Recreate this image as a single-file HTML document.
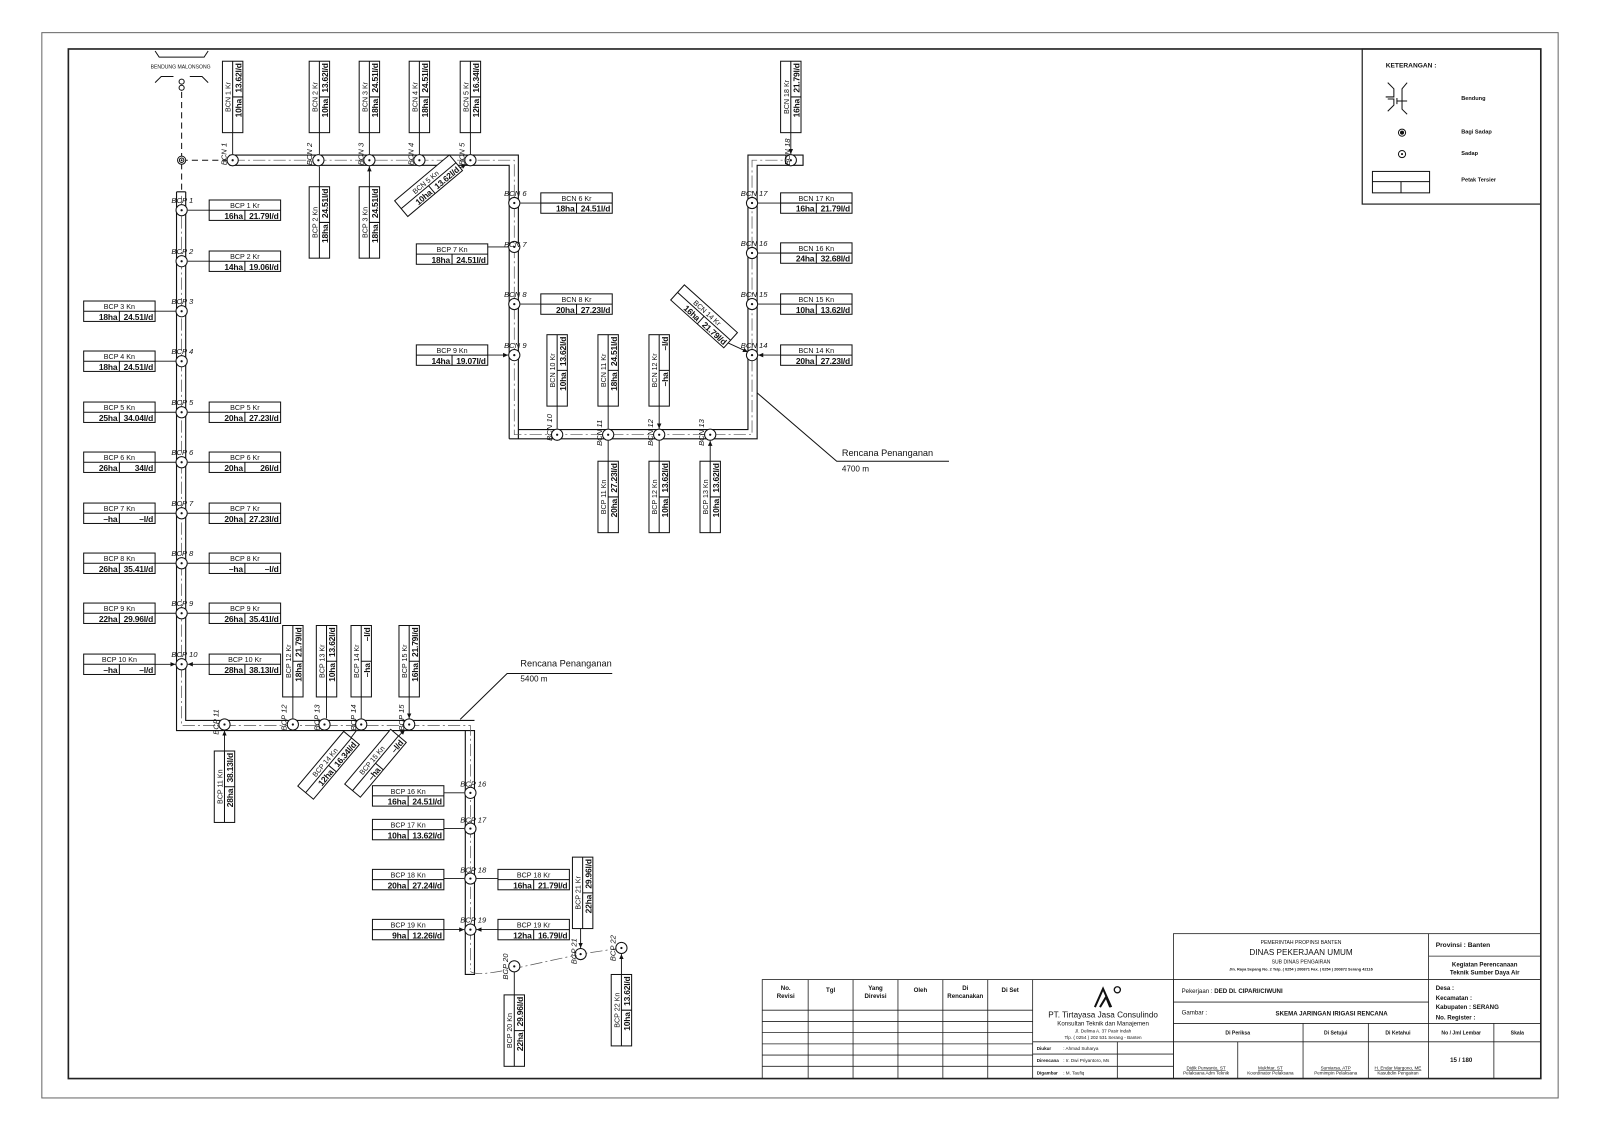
<!DOCTYPE html>
<html><head><meta charset="utf-8"><style>
html,body{margin:0;padding:0;background:#fff;width:1600px;height:1131px;overflow:hidden}
svg{display:block}
text{font-family:"Liberation Sans",sans-serif;fill:#111}
.b rect{fill:#fff;stroke:#111;stroke-width:1}
.b path{stroke:#111;stroke-width:1;fill:none}
.l{font-size:7px;text-anchor:middle}
.v{font-size:8.3px;font-weight:bold;text-anchor:end;letter-spacing:-0.2px}
.n{font-size:7.5px;font-style:italic}
.t{font-size:6px}
.tb{font-size:6px;font-weight:bold}
.c{text-anchor:middle}
</style></head><body>
<svg width="1600" height="1131" viewBox="0 0 1600 1131" xmlns="http://www.w3.org/2000/svg">
<defs>
<marker id="a" markerWidth="6" markerHeight="6" refX="5" refY="3" orient="auto" markerUnits="userSpaceOnUse"><path d="M0,0.8 L5,3 L0,5.2z" fill="#111"/></marker>
</defs>
<g transform="scale(1.0204)">
<rect x="41" y="32" width="1486" height="1044" fill="none" stroke="#666" stroke-width="1"/>
<rect x="67" y="48" width="1443" height="1009" fill="none" stroke="#222" stroke-width="1.6"/>

<rect x="1335" y="48" width="175" height="152" fill="none" stroke="#222" stroke-width="1.2"/>
<text x="1358" y="66" class="tb" style="font-size:6.5px">KETERANGAN :</text>
<path d="M1360,81 l6,6 v8 h-8 M1360,109 l6,-6 v-6 h-6 M1369,99 h10 M1369,96 v6 M1379,81 l-5,6 v20 l5,5 M1374,99 h5" stroke="#111" fill="none" stroke-width="1"/>
<text x="1432" y="98" class="tb" style="font-size:5.5px">Bendung</text>
<circle cx="1374" cy="130" r="3.5" fill="none" stroke="#111"/><circle cx="1374" cy="130" r="2" fill="#111"/>
<text x="1432" y="131" class="tb" style="font-size:5.5px">Bagi Sadap</text>
<circle cx="1374" cy="151" r="3.5" fill="none" stroke="#111"/><circle cx="1374" cy="151" r="1" fill="#111"/>
<text x="1432" y="152" class="tb" style="font-size:5.5px">Sadap</text>
<rect x="1345" y="168" width="56" height="21" fill="none" stroke="#111"/><path d="M1345,178H1401M1373,178V189" stroke="#111"/>
<text x="1432" y="178" class="tb" style="font-size:5.5px">Petak Tersier</text>

<path d="M152,50 l4,6 h44 l4,-6" stroke="#111" fill="none"/>
<text x="177" y="67" class="t c" style="font-size:5px">BENDUNG MALONSONG</text>
<path d="M152,81 l6,-6 h12 M204,81 l-6,-6 h-12" stroke="#111" fill="none"/>
<circle cx="178" cy="80" r="2.5" fill="none" stroke="#111"/><circle cx="178" cy="86" r="2.5" fill="none" stroke="#111"/>
<path d="M178,90 V190 M178,157 H228" stroke="#111" stroke-dasharray="6,4" fill="none"/>
<circle cx="178" cy="157" r="4" fill="#fff" stroke="#111"/><circle cx="178" cy="157" r="2.2" fill="none" stroke="#111"/><circle cx="178" cy="157" r="0.9" fill="#111"/>

<g stroke="#111" stroke-width="1.1" fill="none">
<path d="M225,152 H508 V430 H499 M225,162 H499 V430 M225,152 V162 M508,421 H733 V152 H787 V162 H742 V430 H508"/>
<path d="M173,188 V716 H465 V955 H456 V716 M182,188 V706 H465 M173,188 H182"/>
</g>
<g stroke="#555" stroke-width="0.7" fill="none" stroke-dasharray="12,3,2,3">
<path d="M228,157 H504 V426 H737 V157 H775"/>
<path d="M178,192 V711 H461 V950"/>
<path d="M461,952 Q466,957 500,950 L569,935 L609,929"/>
</g>

<path d="M451,705 L497,660 H600" stroke="#111" fill="none"/>
<text x="510" y="653" style="font-size:9px">Rencana Penanganan</text>
<text x="510" y="668" style="font-size:8px">5400 m</text>
<path d="M742,385 L820,452 H930" stroke="#111" fill="none"/>
<text x="825" y="447" style="font-size:9px">Rencana Penanganan</text>
<text x="825" y="462" style="font-size:8px">4700 m</text>

<g stroke="#111" stroke-width="0.9" marker-end="url(#a)" fill="none">
<path d="M228,130V151M313,130V151M362,130V151M411,130V151M461,130V151M775,130V151"/>
<path d="M313,183V163M362,183V163"/>
<path d="M436,173L457,161"/>
<path d="M530,199H510M478,242H498M530,298H510M478,348H498"/>
<path d="M546,398V420M596,398V420M646,398V420"/>
<path d="M596,452V432M646,452V432M696,452V432"/>
<path d="M709,334L733,345"/>
<path d="M765,199H743M765,248H743M765,298H743M765,348H743"/>
<path d="M205,206H184M205,256H184M205,404H184M205,453H184M205,503H184M205,552H184M205,601H184M205,651H184"/>
<path d="M152,305H172M152,354H172M152,404H172M152,453H172M152,503H172M152,552H172M152,601H172M152,651H172"/>
<path d="M287,683V704M320,683V704M354,683V704M401,683V704"/>
<path d="M220,736V716"/>
<path d="M335,735L350,715M380,732L397,715"/>
<path d="M435,777H455M435,812H455M435,861H455M435,911H455"/>
<path d="M488,861H467M488,911H467"/>
<path d="M569,910V929"/>
<path d="M504,975V953M609,955V935"/>
</g>

<g fill="#fff" stroke="#111" stroke-width="1">
<circle cx="228" cy="157" r="5.5"/><circle cx="312" cy="157" r="5.5"/><circle cx="362" cy="157" r="5.5"/><circle cx="411" cy="157" r="5.5"/><circle cx="461" cy="157" r="5.5"/>
<circle cx="504" cy="199" r="5.5"/><circle cx="504" cy="242" r="5.5"/><circle cx="504" cy="298" r="5.5"/><circle cx="504" cy="348" r="5.5"/>
<circle cx="546" cy="426" r="5.5"/><circle cx="596" cy="426" r="5.5"/><circle cx="646" cy="426" r="5.5"/><circle cx="696" cy="426" r="5.5"/>
<circle cx="737" cy="348" r="5.5"/><circle cx="737" cy="298" r="5.5"/><circle cx="737" cy="248" r="5.5"/><circle cx="737" cy="199" r="5.5"/><circle cx="775" cy="157" r="5.5"/>
<circle cx="178" cy="206" r="5.5"/><circle cx="178" cy="256" r="5.5"/><circle cx="178" cy="305" r="5.5"/><circle cx="178" cy="354" r="5.5"/><circle cx="178" cy="404" r="5.5"/><circle cx="178" cy="453" r="5.5"/><circle cx="178" cy="503" r="5.5"/><circle cx="178" cy="552" r="5.5"/><circle cx="178" cy="601" r="5.5"/><circle cx="178" cy="651" r="5.5"/>
<circle cx="220" cy="710" r="5.5"/><circle cx="287" cy="710" r="5.5"/><circle cx="318" cy="710" r="5.5"/><circle cx="354" cy="710" r="5.5"/><circle cx="401" cy="710" r="5.5"/>
<circle cx="461" cy="777" r="5.5"/><circle cx="461" cy="812" r="5.5"/><circle cx="461" cy="861" r="5.5"/><circle cx="461" cy="911" r="5.5"/>
<circle cx="504" cy="947" r="5.5"/><circle cx="569" cy="935" r="5.5"/><circle cx="609" cy="929" r="5.5"/>
</g>
<g fill="#111">
<circle cx="228" cy="157" r="1.1"/><circle cx="312" cy="157" r="1.1"/><circle cx="362" cy="157" r="1.1"/><circle cx="411" cy="157" r="1.1"/><circle cx="461" cy="157" r="1.1"/>
<circle cx="504" cy="199" r="1.1"/><circle cx="504" cy="242" r="1.1"/><circle cx="504" cy="298" r="1.1"/><circle cx="504" cy="348" r="1.1"/>
<circle cx="546" cy="426" r="1.1"/><circle cx="596" cy="426" r="1.1"/><circle cx="646" cy="426" r="1.1"/><circle cx="696" cy="426" r="1.1"/>
<circle cx="737" cy="348" r="1.1"/><circle cx="737" cy="298" r="1.1"/><circle cx="737" cy="248" r="1.1"/><circle cx="737" cy="199" r="1.1"/><circle cx="775" cy="157" r="1.1"/>
<circle cx="178" cy="206" r="1.1"/><circle cx="178" cy="256" r="1.1"/><circle cx="178" cy="305" r="1.1"/><circle cx="178" cy="354" r="1.1"/><circle cx="178" cy="404" r="1.1"/><circle cx="178" cy="453" r="1.1"/><circle cx="178" cy="503" r="1.1"/><circle cx="178" cy="552" r="1.1"/><circle cx="178" cy="601" r="1.1"/><circle cx="178" cy="651" r="1.1"/>
<circle cx="220" cy="710" r="1.1"/><circle cx="287" cy="710" r="1.1"/><circle cx="318" cy="710" r="1.1"/><circle cx="354" cy="710" r="1.1"/><circle cx="401" cy="710" r="1.1"/>
<circle cx="461" cy="777" r="1.1"/><circle cx="461" cy="812" r="1.1"/><circle cx="461" cy="861" r="1.1"/><circle cx="461" cy="911" r="1.1"/>
<circle cx="504" cy="947" r="1.1"/><circle cx="569" cy="935" r="1.1"/><circle cx="609" cy="929" r="1.1"/>
</g>

<g class="n">
<text transform="translate(222,162) rotate(-90)" class="n">BCN 1</text>
<text transform="translate(306,162) rotate(-90)" class="n">BCN 2</text>
<text transform="translate(356,162) rotate(-90)" class="n">BCN 3</text>
<text transform="translate(405,162) rotate(-90)" class="n">BCN 4</text>
<text transform="translate(455,162) rotate(-90)" class="n">BCN 5</text>
<text transform="translate(774,162) rotate(-90)" class="n">BCN 18</text>
<text x="494" y="192" class="n">BCN 6</text><text x="494" y="242" class="n">BCN 7</text><text x="494" y="291" class="n">BCN 8</text><text x="494" y="341" class="n">BCN 9</text>
<text x="726" y="192" class="n">BCN 17</text><text x="726" y="241" class="n">BCN 16</text><text x="726" y="291" class="n">BCN 15</text><text x="726" y="341" class="n">BCN 14</text>
<text transform="translate(541,432) rotate(-90)" class="n">BCN 10</text>
<text transform="translate(590,437) rotate(-90)" class="n">BCN 11</text>
<text transform="translate(640,437) rotate(-90)" class="n">BCN 12</text>
<text transform="translate(690,437) rotate(-90)" class="n">BCN 13</text>
<text x="168" y="199" class="n">BCP 1</text><text x="168" y="249" class="n">BCP 2</text><text x="168" y="298" class="n">BCP 3</text><text x="168" y="347" class="n">BCP 4</text><text x="168" y="397" class="n">BCP 5</text><text x="168" y="446" class="n">BCP 6</text><text x="168" y="496" class="n">BCP 7</text><text x="168" y="545" class="n">BCP 8</text><text x="168" y="594" class="n">BCP 9</text><text x="168" y="644" class="n">BCP 10</text>
<text transform="translate(214,720) rotate(-90)" class="n">BCP 11</text>
<text transform="translate(281,716) rotate(-90)" class="n">BCP 12</text>
<text transform="translate(313,716) rotate(-90)" class="n">BCP 13</text>
<text transform="translate(349,716) rotate(-90)" class="n">BCP 14</text>
<text transform="translate(396,716) rotate(-90)" class="n">BCP 15</text>
<text x="451" y="771" class="n">BCP 16</text><text x="451" y="806" class="n">BCP 17</text><text x="451" y="855" class="n">BCP 18</text><text x="451" y="904" class="n">BCP 19</text>
<text transform="translate(498,960) rotate(-90)" class="n">BCP 20</text>
<text transform="translate(565,945) rotate(-90)" class="n">BCP 21</text>
<text transform="translate(603,942) rotate(-90)" class="n">BCP 22</text>
</g>

<g class="b">
<g transform="translate(218,130) rotate(-90)"><rect width="70" height="20"/><path d="M0 10H70M35 10V20"/><text x="35" y="8" class="l">BCN 1 Kr</text><text x="33" y="18.5" class="v">10ha</text><text x="68" y="18.5" class="v">13.62l/d</text></g>
<g transform="translate(303,130) rotate(-90)"><rect width="70" height="20"/><path d="M0 10H70M35 10V20"/><text x="35" y="8" class="l">BCN 2 Kr</text><text x="33" y="18.5" class="v">10ha</text><text x="68" y="18.5" class="v">13.62l/d</text></g>
<g transform="translate(352,130) rotate(-90)"><rect width="70" height="20"/><path d="M0 10H70M35 10V20"/><text x="35" y="8" class="l">BCN 3 Kr</text><text x="33" y="18.5" class="v">18ha</text><text x="68" y="18.5" class="v">24.51l/d</text></g>
<g transform="translate(401,130) rotate(-90)"><rect width="70" height="20"/><path d="M0 10H70M35 10V20"/><text x="35" y="8" class="l">BCN 4 Kr</text><text x="33" y="18.5" class="v">18ha</text><text x="68" y="18.5" class="v">24.51l/d</text></g>
<g transform="translate(451,130) rotate(-90)"><rect width="70" height="20"/><path d="M0 10H70M35 10V20"/><text x="35" y="8" class="l">BCN 5 Kr</text><text x="33" y="18.5" class="v">12ha</text><text x="68" y="18.5" class="v">16.34l/d</text></g>
<g transform="translate(765,130) rotate(-90)"><rect width="70" height="20"/><path d="M0 10H70M35 10V20"/><text x="35" y="8" class="l">BCN 18 Kr</text><text x="33" y="18.5" class="v">16ha</text><text x="68" y="18.5" class="v">21.79l/d</text></g>
<g transform="translate(303,253) rotate(-90)"><rect width="70" height="20"/><path d="M0 10H70M35 10V20"/><text x="35" y="8" class="l">BCP 2 Kn</text><text x="33" y="18.5" class="v">18ha</text><text x="68" y="18.5" class="v">24.51l/d</text></g>
<g transform="translate(352,253) rotate(-90)"><rect width="70" height="20"/><path d="M0 10H70M35 10V20"/><text x="35" y="8" class="l">BCP 3 Kn</text><text x="33" y="18.5" class="v">18ha</text><text x="68" y="18.5" class="v">24.51l/d</text></g>
<g transform="translate(420,182) rotate(-40) translate(-35,-10)"><rect width="70" height="20"/><path d="M0 10H70M35 10V20"/><text x="35" y="8" class="l">BCN 5 Kn</text><text x="33" y="18.5" class="v">10ha</text><text x="68" y="18.5" class="v">13.62l/d</text></g>
<g transform="translate(690,310) rotate(42) translate(-35,-10)"><rect width="70" height="20"/><path d="M0 10H70M35 10V20"/><text x="35" y="8" class="l">BCN 14 Kr</text><text x="33" y="18.5" class="v">16ha</text><text x="68" y="18.5" class="v">21.79l/d</text></g>
<g transform="translate(322,750) rotate(-50) translate(-35,-10)"><rect width="70" height="20"/><path d="M0 10H70M35 10V20"/><text x="35" y="8" class="l">BCP 14 Kn</text><text x="33" y="18.5" class="v">12ha</text><text x="68" y="18.5" class="v">16.34l/d</text></g>
<g transform="translate(368,748) rotate(-50) translate(-35,-10)"><rect width="70" height="20"/><path d="M0 10H70M35 10V20"/><text x="35" y="8" class="l">BCP 15 Kn</text><text x="33" y="18.5" class="v">–ha</text><text x="68" y="18.5" class="v">–l/d</text></g>
<g transform="translate(530,189)"><rect width="70" height="20"/><path d="M0 10H70M35 10V20"/><text x="35" y="8" class="l">BCN 6 Kr</text><text x="33" y="18.5" class="v">18ha</text><text x="68" y="18.5" class="v">24.51l/d</text></g>
<g transform="translate(408,239)"><rect width="70" height="20"/><path d="M0 10H70M35 10V20"/><text x="35" y="8" class="l">BCP 7 Kn</text><text x="33" y="18.5" class="v">18ha</text><text x="68" y="18.5" class="v">24.51l/d</text></g>
<g transform="translate(530,288)"><rect width="70" height="20"/><path d="M0 10H70M35 10V20"/><text x="35" y="8" class="l">BCN 8 Kr</text><text x="33" y="18.5" class="v">20ha</text><text x="68" y="18.5" class="v">27.23l/d</text></g>
<g transform="translate(408,338)"><rect width="70" height="20"/><path d="M0 10H70M35 10V20"/><text x="35" y="8" class="l">BCP 9 Kn</text><text x="33" y="18.5" class="v">14ha</text><text x="68" y="18.5" class="v">19.07l/d</text></g>
<g transform="translate(536,398) rotate(-90)"><rect width="70" height="20"/><path d="M0 10H70M35 10V20"/><text x="35" y="8" class="l">BCN 10 Kr</text><text x="33" y="18.5" class="v">10ha</text><text x="68" y="18.5" class="v">13.62l/d</text></g>
<g transform="translate(586,398) rotate(-90)"><rect width="70" height="20"/><path d="M0 10H70M35 10V20"/><text x="35" y="8" class="l">BCN 11 Kr</text><text x="33" y="18.5" class="v">18ha</text><text x="68" y="18.5" class="v">24.51l/d</text></g>
<g transform="translate(636,398) rotate(-90)"><rect width="70" height="20"/><path d="M0 10H70M35 10V20"/><text x="35" y="8" class="l">BCN 12 Kr</text><text x="33" y="18.5" class="v">–ha</text><text x="68" y="18.5" class="v">–l/d</text></g>
<g transform="translate(586,522) rotate(-90)"><rect width="70" height="20"/><path d="M0 10H70M35 10V20"/><text x="35" y="8" class="l">BCP 11 Kn</text><text x="33" y="18.5" class="v">20ha</text><text x="68" y="18.5" class="v">27.23l/d</text></g>
<g transform="translate(636,522) rotate(-90)"><rect width="70" height="20"/><path d="M0 10H70M35 10V20"/><text x="35" y="8" class="l">BCP 12 Kn</text><text x="33" y="18.5" class="v">10ha</text><text x="68" y="18.5" class="v">13.62l/d</text></g>
<g transform="translate(686,522) rotate(-90)"><rect width="70" height="20"/><path d="M0 10H70M35 10V20"/><text x="35" y="8" class="l">BCP 13 Kn</text><text x="33" y="18.5" class="v">10ha</text><text x="68" y="18.5" class="v">13.62l/d</text></g>
<g transform="translate(765,189)"><rect width="70" height="20"/><path d="M0 10H70M35 10V20"/><text x="35" y="8" class="l">BCN 17 Kn</text><text x="33" y="18.5" class="v">16ha</text><text x="68" y="18.5" class="v">21.79l/d</text></g>
<g transform="translate(765,238)"><rect width="70" height="20"/><path d="M0 10H70M35 10V20"/><text x="35" y="8" class="l">BCN 16 Kn</text><text x="33" y="18.5" class="v">24ha</text><text x="68" y="18.5" class="v">32.68l/d</text></g>
<g transform="translate(765,288)"><rect width="70" height="20"/><path d="M0 10H70M35 10V20"/><text x="35" y="8" class="l">BCN 15 Kn</text><text x="33" y="18.5" class="v">10ha</text><text x="68" y="18.5" class="v">13.62l/d</text></g>
<g transform="translate(765,338)"><rect width="70" height="20"/><path d="M0 10H70M35 10V20"/><text x="35" y="8" class="l">BCN 14 Kn</text><text x="33" y="18.5" class="v">20ha</text><text x="68" y="18.5" class="v">27.23l/d</text></g>
<g transform="translate(205,196)"><rect width="70" height="20"/><path d="M0 10H70M35 10V20"/><text x="35" y="8" class="l">BCP 1 Kr</text><text x="33" y="18.5" class="v">16ha</text><text x="68" y="18.5" class="v">21.79l/d</text></g>
<g transform="translate(205,246)"><rect width="70" height="20"/><path d="M0 10H70M35 10V20"/><text x="35" y="8" class="l">BCP 2 Kr</text><text x="33" y="18.5" class="v">14ha</text><text x="68" y="18.5" class="v">19.06l/d</text></g>
<g transform="translate(82,295)"><rect width="70" height="20"/><path d="M0 10H70M35 10V20"/><text x="35" y="8" class="l">BCP 3 Kn</text><text x="33" y="18.5" class="v">18ha</text><text x="68" y="18.5" class="v">24.51l/d</text></g>
<g transform="translate(82,344)"><rect width="70" height="20"/><path d="M0 10H70M35 10V20"/><text x="35" y="8" class="l">BCP 4 Kn</text><text x="33" y="18.5" class="v">18ha</text><text x="68" y="18.5" class="v">24.51l/d</text></g>
<g transform="translate(82,394)"><rect width="70" height="20"/><path d="M0 10H70M35 10V20"/><text x="35" y="8" class="l">BCP 5 Kn</text><text x="33" y="18.5" class="v">25ha</text><text x="68" y="18.5" class="v">34.04l/d</text></g>
<g transform="translate(205,394)"><rect width="70" height="20"/><path d="M0 10H70M35 10V20"/><text x="35" y="8" class="l">BCP 5 Kr</text><text x="33" y="18.5" class="v">20ha</text><text x="68" y="18.5" class="v">27.23l/d</text></g>
<g transform="translate(82,443)"><rect width="70" height="20"/><path d="M0 10H70M35 10V20"/><text x="35" y="8" class="l">BCP 6 Kn</text><text x="33" y="18.5" class="v">26ha</text><text x="68" y="18.5" class="v">34l/d</text></g>
<g transform="translate(205,443)"><rect width="70" height="20"/><path d="M0 10H70M35 10V20"/><text x="35" y="8" class="l">BCP 6 Kr</text><text x="33" y="18.5" class="v">20ha</text><text x="68" y="18.5" class="v">26l/d</text></g>
<g transform="translate(82,493)"><rect width="70" height="20"/><path d="M0 10H70M35 10V20"/><text x="35" y="8" class="l">BCP 7 Kn</text><text x="33" y="18.5" class="v">–ha</text><text x="68" y="18.5" class="v">–l/d</text></g>
<g transform="translate(205,493)"><rect width="70" height="20"/><path d="M0 10H70M35 10V20"/><text x="35" y="8" class="l">BCP 7 Kr</text><text x="33" y="18.5" class="v">20ha</text><text x="68" y="18.5" class="v">27.23l/d</text></g>
<g transform="translate(82,542)"><rect width="70" height="20"/><path d="M0 10H70M35 10V20"/><text x="35" y="8" class="l">BCP 8 Kn</text><text x="33" y="18.5" class="v">26ha</text><text x="68" y="18.5" class="v">35.41l/d</text></g>
<g transform="translate(205,542)"><rect width="70" height="20"/><path d="M0 10H70M35 10V20"/><text x="35" y="8" class="l">BCP 8 Kr</text><text x="33" y="18.5" class="v">–ha</text><text x="68" y="18.5" class="v">–l/d</text></g>
<g transform="translate(82,591)"><rect width="70" height="20"/><path d="M0 10H70M35 10V20"/><text x="35" y="8" class="l">BCP  9 Kn</text><text x="33" y="18.5" class="v">22ha</text><text x="68" y="18.5" class="v">29.96l/d</text></g>
<g transform="translate(205,591)"><rect width="70" height="20"/><path d="M0 10H70M35 10V20"/><text x="35" y="8" class="l">BCP 9 Kr</text><text x="33" y="18.5" class="v">26ha</text><text x="68" y="18.5" class="v">35.41l/d</text></g>
<g transform="translate(82,641)"><rect width="70" height="20"/><path d="M0 10H70M35 10V20"/><text x="35" y="8" class="l">BCP 10 Kn</text><text x="33" y="18.5" class="v">–ha</text><text x="68" y="18.5" class="v">–l/d</text></g>
<g transform="translate(205,641)"><rect width="70" height="20"/><path d="M0 10H70M35 10V20"/><text x="35" y="8" class="l">BCP 10 Kr</text><text x="33" y="18.5" class="v">28ha</text><text x="68" y="18.5" class="v">38.13l/d</text></g>
<g transform="translate(277,683) rotate(-90)"><rect width="70" height="20"/><path d="M0 10H70M35 10V20"/><text x="35" y="8" class="l">BCP 12 Kr</text><text x="33" y="18.5" class="v">18ha</text><text x="68" y="18.5" class="v">21.79l/d</text></g>
<g transform="translate(310,683) rotate(-90)"><rect width="70" height="20"/><path d="M0 10H70M35 10V20"/><text x="35" y="8" class="l">BCP 13 Kr</text><text x="33" y="18.5" class="v">10ha</text><text x="68" y="18.5" class="v">13.62l/d</text></g>
<g transform="translate(344,683) rotate(-90)"><rect width="70" height="20"/><path d="M0 10H70M35 10V20"/><text x="35" y="8" class="l">BCP 14 Kr</text><text x="33" y="18.5" class="v">–ha</text><text x="68" y="18.5" class="v">–l/d</text></g>
<g transform="translate(391,683) rotate(-90)"><rect width="70" height="20"/><path d="M0 10H70M35 10V20"/><text x="35" y="8" class="l">BCP 15 Kr</text><text x="33" y="18.5" class="v">16ha</text><text x="68" y="18.5" class="v">21.79l/d</text></g>
<g transform="translate(210,806) rotate(-90)"><rect width="70" height="20"/><path d="M0 10H70M35 10V20"/><text x="35" y="8" class="l">BCP 11 Kn</text><text x="33" y="18.5" class="v">28ha</text><text x="68" y="18.5" class="v">38.13l/d</text></g>
<g transform="translate(365,770)"><rect width="70" height="20"/><path d="M0 10H70M35 10V20"/><text x="35" y="8" class="l">BCP 16 Kn</text><text x="33" y="18.5" class="v">16ha</text><text x="68" y="18.5" class="v">24.51l/d</text></g>
<g transform="translate(365,803)"><rect width="70" height="20"/><path d="M0 10H70M35 10V20"/><text x="35" y="8" class="l">BCP 17 Kn</text><text x="33" y="18.5" class="v">10ha</text><text x="68" y="18.5" class="v">13.62l/d</text></g>
<g transform="translate(365,852)"><rect width="70" height="20"/><path d="M0 10H70M35 10V20"/><text x="35" y="8" class="l">BCP 18 Kn</text><text x="33" y="18.5" class="v">20ha</text><text x="68" y="18.5" class="v">27.24l/d</text></g>
<g transform="translate(488,852)"><rect width="70" height="20"/><path d="M0 10H70M35 10V20"/><text x="35" y="8" class="l">BCP 18 Kr</text><text x="33" y="18.5" class="v">16ha</text><text x="68" y="18.5" class="v">21.79l/d</text></g>
<g transform="translate(365,901)"><rect width="70" height="20"/><path d="M0 10H70M35 10V20"/><text x="35" y="8" class="l">BCP 19 Kn</text><text x="33" y="18.5" class="v">9ha</text><text x="68" y="18.5" class="v">12.26l/d</text></g>
<g transform="translate(488,901)"><rect width="70" height="20"/><path d="M0 10H70M35 10V20"/><text x="35" y="8" class="l">BCP 19 Kr</text><text x="33" y="18.5" class="v">12ha</text><text x="68" y="18.5" class="v">16.79l/d</text></g>
<g transform="translate(561,910) rotate(-90)"><rect width="70" height="20"/><path d="M0 10H70M35 10V20"/><text x="35" y="8" class="l">BCP 21 Kr</text><text x="33" y="18.5" class="v">22ha</text><text x="68" y="18.5" class="v">29.96l/d</text></g>
<g transform="translate(494,1045) rotate(-90)"><rect width="70" height="20"/><path d="M0 10H70M35 10V20"/><text x="35" y="8" class="l">BCP 20 Kn</text><text x="33" y="18.5" class="v">22ha</text><text x="68" y="18.5" class="v">29.96l/d</text></g>
<g transform="translate(599,1025) rotate(-90)"><rect width="70" height="20"/><path d="M0 10H70M35 10V20"/><text x="35" y="8" class="l">BCP 22 Kn</text><text x="33" y="18.5" class="v">10ha</text><text x="68" y="18.5" class="v">13.62l/d</text></g>
</g>

<g stroke="#222" stroke-width="0.8" fill="none">
<rect x="747" y="960" width="403" height="97"/>
<path d="M792,960V1057M836,960V1057M880,960V1057M924,960V1057M968,960V1057M1012,960V1057"/>
<path d="M747,990H1012M747,1001H1012M747,1012H1012M747,1023H1012M747,1034H1012M747,1045H1012"/>
<path d="M1012,1021H1150M1012,1033H1150M1012,1045H1150M1095,1021V1057"/>
<rect x="1150" y="915" width="360" height="142"/>
<path d="M1150,960H1400M1150,982H1400M1150,1003H1510M1150,1021H1510M1400,915V1057M1400,937H1510M1400,960H1510M1213,1021V1057M1277,1003V1057M1341,1003V1057M1464,1003V1057"/>
</g>
<g class="t">
<text x="770" y="970" class="tb c">No.</text><text x="770" y="978" class="tb c">Revisi</text>
<text x="814" y="972" class="tb c">Tgl</text>
<text x="858" y="970" class="tb c">Yang</text><text x="858" y="978" class="tb c">Direvisi</text>
<text x="902" y="972" class="tb c">Oleh</text>
<text x="946" y="970" class="tb c">Di</text><text x="946" y="978" class="tb c">Rencanakan</text>
<text x="990" y="972" class="tb c">Di Set</text>
<path d="M1073,987 l8,-18 l8,18 M1078,987 l6,-10 l4,10" stroke="#111" stroke-width="2" fill="none"/>
<circle cx="1095" cy="970" r="3" fill="none" stroke="#111" stroke-width="1.3"/>
<text x="1081" y="997" class="c" style="font-size:8px">PT. Tirtayasa Jasa Consulindo</text>
<text x="1081" y="1005" class="c" style="font-size:6px">Konsultan Teknik dan Manajemen</text>
<text x="1081" y="1012" class="c" style="font-size:4.5px">Jl. Delima A. 37 Pasir Indah</text>
<text x="1081" y="1018" class="c" style="font-size:4.5px">Tlp. ( 0254 ) 202 531 Serang - Banten</text>
<text x="1016" y="1029" style="font-size:4.5px;font-weight:bold">Diukur</text><text x="1042" y="1029" style="font-size:4.5px">:   Ahmad Suharya</text>
<text x="1016" y="1041" style="font-size:4.5px;font-weight:bold">Direncana</text><text x="1042" y="1041" style="font-size:4.5px">:   Ir. Dwi Priyantoro, Ms</text>
<text x="1016" y="1053" style="font-size:4.5px;font-weight:bold">Digambar</text><text x="1042" y="1053" style="font-size:4.5px">:   M. Taufiq</text>
<text x="1275" y="925" class="c" style="font-size:5px">PEMERINTAH PROPINSI BANTEN</text>
<text x="1275" y="936" class="c" style="font-size:8px">DINAS PEKERJAAN UMUM</text>
<text x="1275" y="944" class="c" style="font-size:5px">SUB DINAS PENGAIRAN</text>
<text x="1275" y="951" class="c" style="font-size:3.8px;font-weight:bold">Jln. Raya Sepang No. 2 Telp. ( 0254 ) 200871 Fax. ( 0254 ) 200872 Serang 42116</text>
<text x="1158" y="973" style="font-size:6px">Pekerjaan :  <tspan font-weight="bold">DED DI. CIPARI/CIWUNI</tspan></text>
<text x="1158" y="994" style="font-size:6px">Gambar :</text>
<text x="1305" y="995" class="tb c">SKEMA JARINGAN IRIGASI RENCANA</text>
<text x="1213" y="1014" class="tb c" style="font-size:5px">Di Periksa</text>
<text x="1309" y="1014" class="tb c" style="font-size:5px">Di Setujui</text>
<text x="1370" y="1014" class="tb c" style="font-size:5px">Di Ketahui</text>
<text x="1432" y="1014" class="tb c" style="font-size:5px">No / Jml Lembar</text>
<text x="1487" y="1014" class="tb c" style="font-size:5px">Skala</text>
<text x="1182" y="1048" class="c" style="font-size:4.5px;text-decoration:underline">Didik Purwanto, ST</text><text x="1182" y="1053" class="c" style="font-size:4.5px">Pelaksana Adm Teknik</text>
<text x="1245" y="1048" class="c" style="font-size:4.5px;text-decoration:underline">Mukhtar, ST</text><text x="1245" y="1053" class="c" style="font-size:4.5px">Koordinator Pelaksana</text>
<text x="1309" y="1048" class="c" style="font-size:4.5px;text-decoration:underline">Sumiarsa, ATP</text><text x="1309" y="1053" class="c" style="font-size:4.5px">Pemimpin Pelaksana</text>
<text x="1370" y="1048" class="c" style="font-size:4.5px;text-decoration:underline">H. Endar Margono, ME</text><text x="1370" y="1053" class="c" style="font-size:4.5px">Kasubdin Pengairan</text>
<text x="1432" y="1041" class="tb c" style="font-size:6px">15 / 180</text>
<text x="1407" y="928" class="tb" style="font-size:6.5px">Provinsi    :  Banten</text>
<text x="1455" y="947" class="tb c">Kegiatan Perencanaan</text>
<text x="1455" y="955" class="tb c">Teknik Sumber Daya Air</text>
<text x="1407" y="970" class="tb">Desa          :</text>
<text x="1407" y="980" class="tb">Kecamatan  :</text>
<text x="1407" y="989" class="tb">Kabupaten   : SERANG</text>
<text x="1407" y="999" class="tb">No. Register :</text>
</g>
</g>
</svg>
</body></html>
